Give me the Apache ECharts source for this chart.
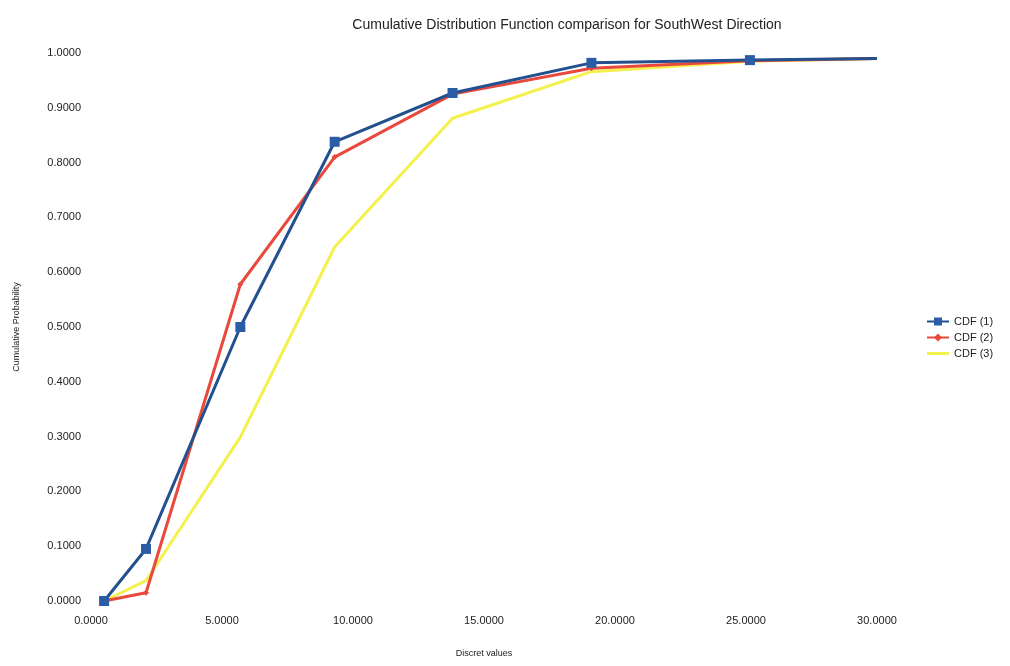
<!DOCTYPE html>
<html><head><meta charset="utf-8">
<script src="https://cdn.jsdelivr.net/npm/echarts@6/dist/echarts.min.js"></script>
<style>html,body{margin:0;padding:0;background:#fff}#c{width:1010px;height:666px}</style>
</head><body><div id="c"></div>
<script>
const xValues = [0.5, 2.1, 5.7, 9.3, 13.8, 19.1, 25.15, 30.0];
const cdf1 = [0.000, 0.095, 0.500, 0.838, 0.927, 0.982, 0.987, 0.990];
const cdf2 = [0.000, 0.015, 0.578, 0.810, 0.925, 0.972, 0.986, 0.990];
const cdf3 = [0.000, 0.037, 0.299, 0.646, 0.881, 0.966, 0.985, 0.990];
const seriesNames = ['CDF (1)', 'CDF (2)', 'CDF (3)'];
const pair = (arr, markLast) => xValues.map((x, i) => {
  const item = {value: [x, arr[i]]};
  if (!markLast && i === xValues.length - 1) item.symbol = 'none';
  return item;
});
const font = 'Liberation Sans, Arial, sans-serif';
const chart = echarts.init(document.getElementById('c'));
chart.setOption({
  backgroundColor: '#fff',
  animation: false,
  title: {
    text: 'Cumulative Distribution Function comparison for SouthWest Direction',
    left: 562, top: 13, textAlign: 'center',
    textStyle: {fontFamily: font, fontSize: 14, fontWeight: 'normal', color: '#222'}
  },
  legend: {
    orient: 'vertical', left: 921, top: 311, itemGap: 5,
    itemWidth: 22, itemHeight: 10,
    textStyle: {fontFamily: font, fontSize: 11, color: '#222'},
    data: [
      {name: seriesNames[0]},
      {name: seriesNames[1]},
      {name: seriesNames[2], icon: 'path://M0,0 L22,0 L22,3 L0,3 Z'}
    ]
  },
  grid: {left: 91, right: 133, top: 53, bottom: 65, containLabel: false},
  xAxis: {
    type: 'value', min: 0, max: 30, interval: 5,
    name: 'Discret values', nameLocation: 'middle', nameGap: 48,
    nameTextStyle: {fontFamily: font, fontSize: 9, color: '#222'},
    axisLine: {show: false}, axisTick: {show: false}, splitLine: {show: false},
    axisLabel: {fontFamily: font, fontSize: 11, color: '#222', margin: 14,
      formatter: v => v.toFixed(4)}
  },
  yAxis: {
    type: 'value', min: 0, max: 1, interval: 0.1,
    name: 'Cumulative Probability', nameLocation: 'middle', nameGap: 70,
    nameTextStyle: {fontFamily: font, fontSize: 9, color: '#222'},
    axisLine: {show: false}, axisTick: {show: false}, splitLine: {show: false},
    axisLabel: {fontFamily: font, fontSize: 11, color: '#222', margin: 10,
      formatter: v => v.toFixed(4)}
  },
  series: [
    {name: seriesNames[2], type: 'line', data: pair(cdf3, false), symbol: 'none', z: 1,
      lineStyle: {color: '#f4f04c', width: 3}, itemStyle: {color: '#f4f04c'}},
    {name: seriesNames[1], type: 'line', data: pair(cdf2, false), symbol: 'diamond', symbolSize: 6, z: 2,
      showAllSymbol: true,
      lineStyle: {color: '#e9483c', width: 3}, itemStyle: {color: '#e9483c'}},
    {name: seriesNames[0], type: 'line', data: pair(cdf1, false), symbol: 'rect', symbolSize: 10, z: 3,
      lineStyle: {color: '#23508e', width: 3}, itemStyle: {color: '#2b5ca6'}}
  ]
});
</script></body></html>
